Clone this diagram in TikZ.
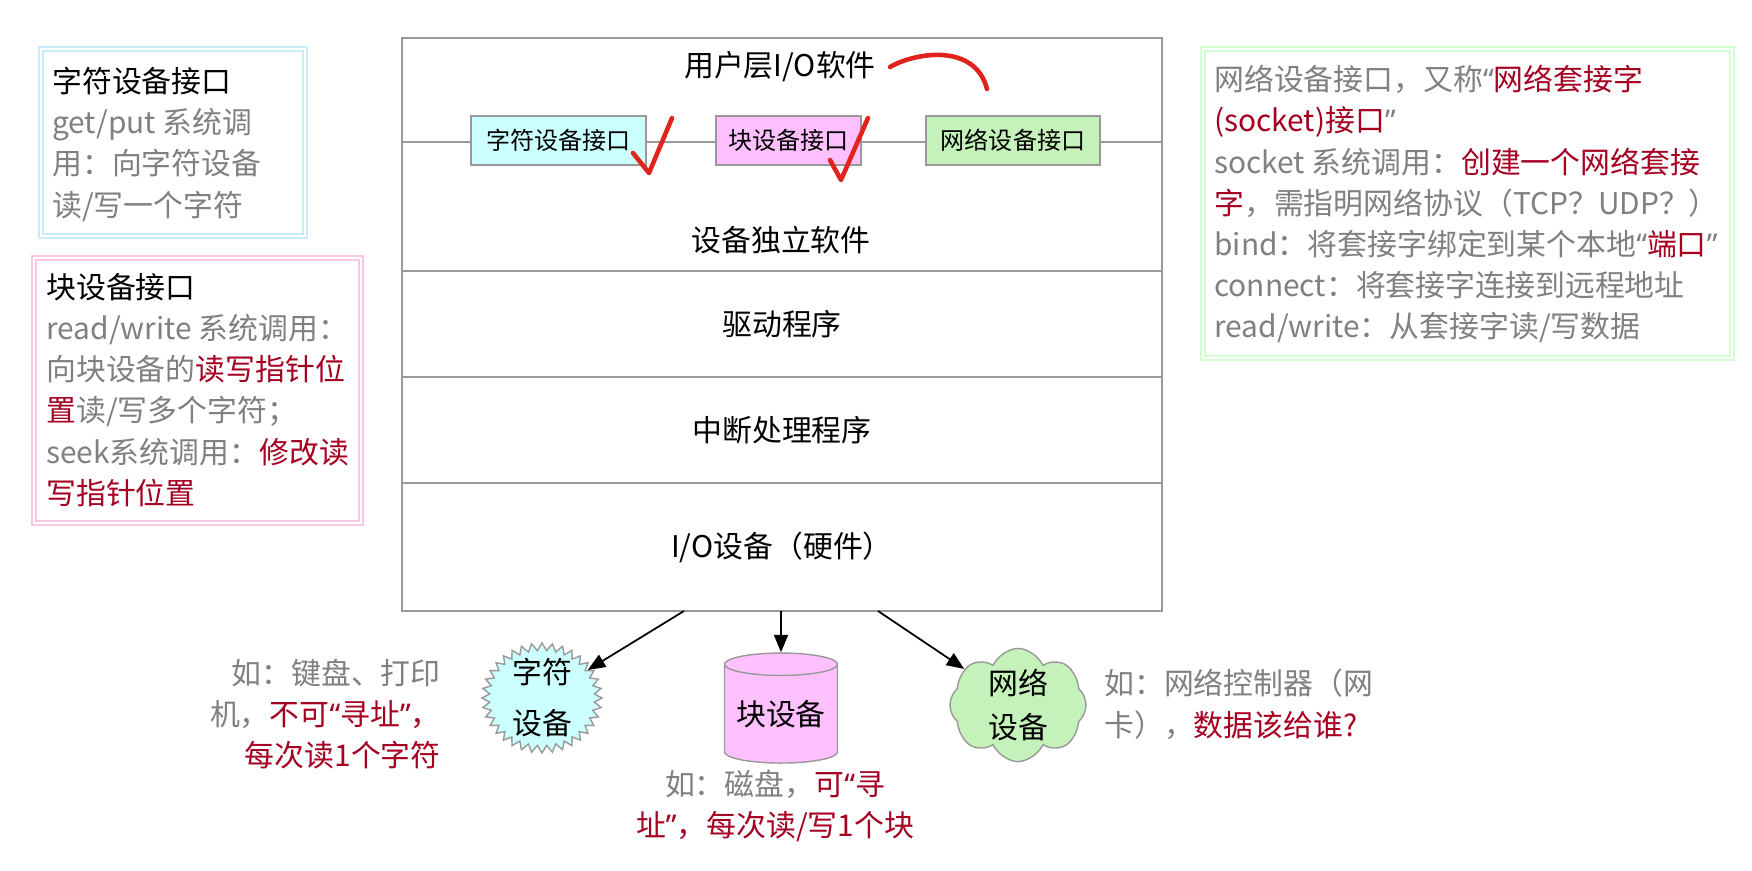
\documentclass[tikz,border=0pt]{standalone}
\usepackage{fontspec}
\setmainfont{Noto Sans CJK SC}
\newfontfamily\latinfont{Noto Sans}
\usetikzlibrary{shapes.geometric,shapes.symbols,arrows.meta,calc}

\definecolor{txtgray}{RGB}{128,128,128}
\definecolor{hilite}{RGB}{165,0,33}
\definecolor{pen}{RGB}{225,35,30}
\definecolor{chrfill}{RGB}{204,255,255}
\definecolor{blkfill}{RGB}{255,192,255}
\definecolor{netfill}{RGB}{196,242,186}
\newcommand{\redtxt}[1]{\textcolor{hilite}{#1}}
\newcommand{\qopen}{{\latinfont “}}
\newcommand{\qclose}{{\latinfont ”}}

\begin{document}
\begin{tikzpicture}[font=\fontsize{17}{23.4}\selectfont, every node/.style={inner sep=0pt}]
  \fill[white] (0,0) rectangle (35.04,-17.4);
  \useasboundingbox (0,0) rectangle (35.04,-17.4);
  \tikzset{layer/.style={draw=black!40, line width=1pt, minimum width=15.2cm, outer sep=0pt},
           iface/.style={draw=black!40, line width=.9pt, minimum height=.98cm,
             font=\fontsize{13.7}{16}\selectfont},
           device/.style={draw=black!40, line width=.8pt},
           note/.style={text=txtgray, align=left, anchor=north west},
           card/.style={line width=.9pt, double=white, double distance=1.6pt},
           arr/.style={-{Triangle[length=10pt,width=8pt]}, line width=1pt},
           tick/.style={pen, line width=2.6pt, line cap=round, line join=round}}

  % the layered I/O software stack
  \node[layer, minimum height=4.66cm, anchor=north] (indep) at (15.64,-0.76) {};
  \node[layer, minimum height=2.12cm, anchor=north] (drv) at (indep.south) {驱动程序};
  \node[layer, minimum height=2.12cm, anchor=north] (irq) at (drv.south) {中断处理程序};
  \node[layer, minimum height=2.56cm, anchor=north] (hw) at (irq.south) {I/O设备（硬件）};
  \node (user) at (15.6,-1.34) {用户层I/O软件};
  \node (indeptxt) at (15.62,-4.8) {设备独立软件};
  \draw[draw=black!40, line width=1pt] ([yshift=-2.08cm]indep.north west)
    -- ([yshift=-2.08cm]indep.north east);
  \node[iface, fill=chrfill, minimum width=3.5cm] (chrif) at (11.17,-2.81) {字符设备接口};
  \node[iface, fill=blkfill, minimum width=2.9cm] (blkif) at (15.77,-2.81) {块设备接口};
  \node[iface, fill=netfill, minimum width=3.48cm] (netif) at (20.26,-2.81) {网络设备接口};

  % side cards
  \draw[card, draw=cyan!22] (0.82,-0.98) rectangle (6.1,-4.72);
  \node[note] (chrcard) at (1.04,-1.34) {\textcolor{black}{字符设备接口}\\get/put 系统调\\用：向字符设备\\读/写一个字符};
  \draw[card, draw=magenta!22] (0.68,-5.16) rectangle (7.22,-10.46);
  \node[note] (blkcard) at (0.92,-5.46) {\textcolor{black}{块设备接口}\\read/write 系统调用：\\向块设备的\redtxt{读写指针位}\\\redtxt{置}读/写多个字符；\\seek系统调用：\redtxt{修改读}\\\redtxt{写指针位置}};
  \draw[card, draw=green!18] (24.06,-0.98) rectangle (34.64,-7.16);
  \node[note] (netcard) at (24.28,-1.30) {网络设备接口，又称\qopen\redtxt{网络套接字}\\\redtxt{(socket)接口}\qclose\\socket 系统调用：\redtxt{创建一个网络套接}\\\redtxt{字}，需指明网络协议（TCP？UDP？）\\bind：将套接字绑定到某个本地\qopen\redtxt{端口}\qclose\\connect：将套接字连接到远程地址\\read/write：从套接字读/写数据};

  % the three kinds of device
  \node[device, starburst, starburst points=36, starburst point height=.15cm, random starburst=0,
        fill=chrfill, minimum width=2.4cm, minimum height=2.2cm] (chr) at (10.84,-13.96) {};
  \node[align=center, font=\fontsize{17}{29}\selectfont] (chrtxt) at (chr) {字符\\设备};
  \node[device, cylinder, shape border rotate=90, aspect=.25, fill=blkfill,
        minimum width=2.26cm, minimum height=2.2cm] (blk) at (15.62,-14.28) {块设备};
  \node[device, cloud, cloud puffs=8, cloud puff arc=115, cloud ignores aspect, fill=netfill,
        minimum width=2.72cm, minimum height=1.84cm, yscale=1.23] (net) at (20.36,-14.1) {};
  \node[align=center, font=\fontsize{17}{25}\selectfont] (nettxt) at (net) {网络\\设备};
  \coordinate (o1) at ($(hw.south)+(-1.96,0)$);
  \coordinate (o3) at ($(hw.south)+(1.92,0)$);
  \draw[arr] (o1) -- (chr);
  \draw[arr] (blk.north |- hw.south) -- (blk);
  \draw[arr] (o3) -- (net);

  \node[note, anchor=north east, align=right] (chrex) at (8.82,-13.18) {如：键盘、打印\\机，\redtxt{不可\qopen 寻址\qclose，}\\\redtxt{每次读1个字符}};
  \node[note, anchor=north, align=center] (blkex) at (15.5,-15.4) {如：磁盘，\redtxt{可\qopen 寻}\\\redtxt{址\qclose，每次读/写1个块}};
  \node[note] (netex) at (22.08,-13.38) {如：网络控制器（网\\卡），\redtxt{数据该给谁?}};

  % pen marks
  \draw[tick] (12.66,-3.06) -- (12.98,-3.46) -- (13.44,-2.36);
  \draw[tick] (16.6,-3.2) -- (16.82,-3.6) -- (17.36,-2.36);
  \draw[tick] (17.8,-1.34) .. controls (18.3,-1.05) and (19.5,-0.85) .. (19.74,-1.78);
\end{tikzpicture}
\end{document}
